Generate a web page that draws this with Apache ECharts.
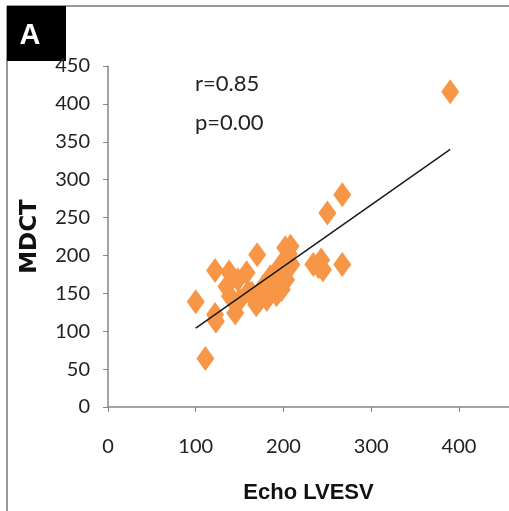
<!DOCTYPE html>
<html>
<head>
<meta charset="utf-8">
<script src="https://cdn.jsdelivr.net/npm/echarts@6/dist/echarts.min.js"></script>
<style>
html,body{margin:0;padding:0;background:#fff;overflow:hidden;}
#main{width:509px;height:511px;}
</style>
</head>
<body>
<div id="main"></div>
<script>
// 数据：Echo LVESV (x) 对 MDCT (y)
var echoLVESV = [100, 111, 122, 123, 122, 138, 135, 139, 145, 148, 150, 158, 160, 164, 170, 169, 177, 173, 181, 185,
    190, 192, 196, 196, 198, 203, 202, 206, 209, 208, 234, 243, 245, 240, 250, 267, 267, 390];
var mdct = [139, 64, 180, 113, 122, 178, 159, 146, 124, 168, 141, 177, 152, 150, 201, 135, 159, 141, 142, 172,
    160, 148, 161, 186, 155, 168, 210, 202, 188, 212, 188, 194, 181, 185, 256, 280, 188, 416];
// 趋势线两端
var trendX = [100, 390];
var trendY = [104, 340];
var xTicks = [0, 100, 200, 300, 400];
var yTicks = [0, 50, 100, 150, 200, 250, 300, 350, 400, 450];
var statText = ['r=0.85', 'p=0.00'];

var points = echoLVESV.map(function (v, i) { return [v, mdct[i]]; });
var trend = trendX.map(function (v, i) { return [v, trendY[i]]; });

var myChart = echarts.init(document.getElementById('main'));
var axisColor = '#868686';
var font = 'Lato, "Open Sans", sans-serif';

var option = {
    animation: false,
    grid: { left: 108, top: 66, bottom: 104, right: 0 },
    xAxis: {
        type: 'value',
        min: xTicks[0],
        max: 457,
        interval: 100,
        splitLine: { show: false },
        axisLine: { lineStyle: { color: axisColor, width: 1.5 } },
        axisTick: { show: true, length: 5, lineStyle: { color: axisColor } },
        axisLabel: { showMaxLabel: false, margin: 30, color: '#222', fontSize: 20, fontFamily: font },
        name: 'Echo LVESV',
        nameLocation: 'middle',
        nameGap: 75,
        nameTextStyle: { color: '#111', fontSize: 22, fontWeight: 'bold', fontFamily: '"Liberation Sans Narrow", sans-serif' }
    },
    yAxis: {
        type: 'value',
        min: yTicks[0],
        max: yTicks[yTicks.length - 1],
        interval: 50,
        splitLine: { show: false },
        axisLine: { show: true, lineStyle: { color: axisColor, width: 1.5 } },
        axisTick: { show: true, length: 5, lineStyle: { color: axisColor } },
        axisLabel: { margin: 18, color: '#222', fontSize: 20, fontFamily: font },
        name: 'MDCT',
        nameLocation: 'middle',
        nameGap: 66,
        nameTextStyle: { color: '#111', fontSize: 23, fontWeight: 'bold', fontFamily: '"DejaVu Sans", sans-serif' }
    },
    series: [
        {
            type: 'scatter',
            data: points,
            symbol: 'diamond',
            symbolSize: [18, 25],
            itemStyle: { color: '#f79646', opacity: 1 },
            z: 2
        },
        {
            type: 'line',
            data: trend,
            symbol: 'none',
            lineStyle: { color: '#1a1a1a', width: 1.5 },
            z: 3
        }
    ],
    graphic: [
        { type: 'line', shape: { x1: 7, y1: 6, x2: 509, y2: 6 }, style: { stroke: '#999', lineWidth: 2 } },
        { type: 'line', shape: { x1: 7, y1: 6, x2: 7, y2: 511 }, style: { stroke: '#999', lineWidth: 2 } },
        { type: 'rect', shape: { x: 7, y: 6, width: 59, height: 55 }, style: { fill: '#000' } },
        { type: 'text', x: 30, y: 36, style: { text: 'A', fill: '#fff', fontSize: 29, fontWeight: 'bold', fontFamily: 'Liberation Sans, Arial, sans-serif', textAlign: 'center', textVerticalAlign: 'middle' } },
        { type: 'text', x: 195, y: 84, style: { text: statText[0], fill: '#222', fontSize: 22, fontFamily: font, textVerticalAlign: 'middle' } },
        { type: 'text', x: 195, y: 123, style: { text: statText[1], fill: '#222', fontSize: 22, fontFamily: font, textVerticalAlign: 'middle' } }
    ]
};
myChart.setOption(option);
</script>
</body>
</html>
